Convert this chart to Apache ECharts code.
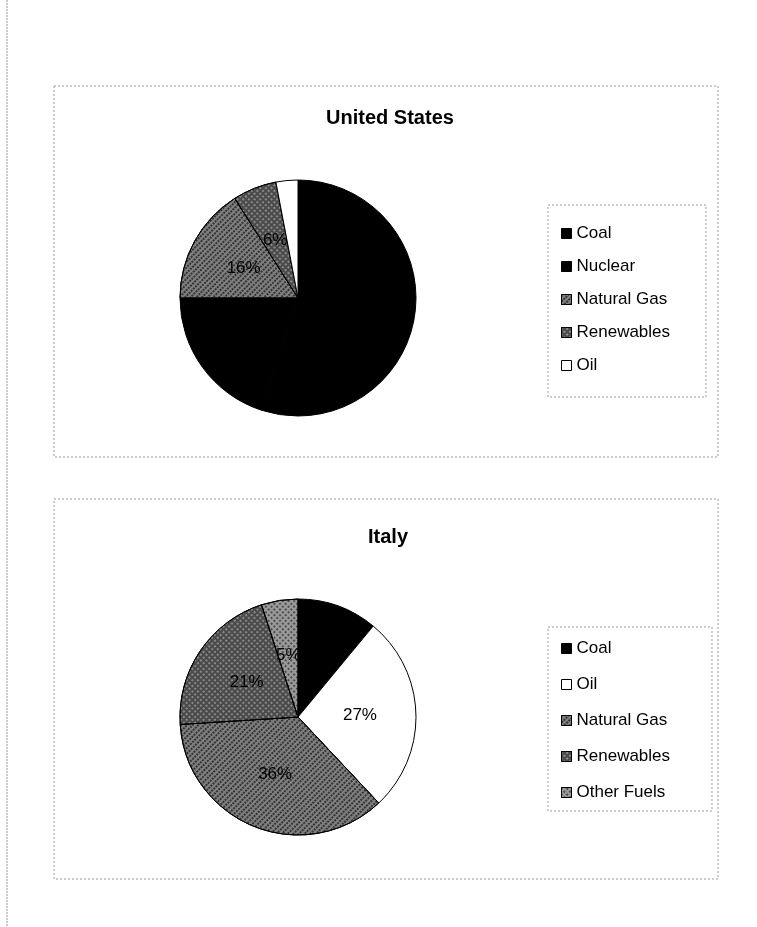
<!DOCTYPE html>
<html><head><meta charset="utf-8">
<script src="https://cdn.jsdelivr.net/npm/echarts@6/dist/echarts.min.js"></script>
<style>html,body{margin:0;padding:0;background:#fff}#c{width:757px;height:927px}</style>
</head><body><div id="c"></div>
<script>
const usCategories = ['Coal', 'Nuclear', 'Natural Gas', 'Renewables', 'Oil'];
const usValues = [55, 20, 16, 6, 3];
const itCategories = ['Coal', 'Oil', 'Natural Gas', 'Renewables', 'Other Fuels'];
const itValues = [11, 27, 36, 21, 5];

const styles = {
  'Coal': {color: '#000'},
  'Nuclear': {color: '#000'},
  'Oil': {color: '#fff'},
  'Natural Gas': {color: '#808080', decal: {symbol: 'rect', symbolSize: 1, color: 'rgba(0,0,0,0.6)', dashArrayX: [2, 2], dashArrayY: [2, 1], rotation: Math.PI / 4}},
  'Renewables': {color: '#4a4a4a', decal: {symbol: 'rect', symbolSize: 1, color: 'rgba(255,255,255,0.35)', dashArrayX: [2, 2], dashArrayY: [2, 2], rotation: Math.PI / 4}},
  'Other Fuels': {color: '#9a9a9a', decal: {symbol: 'rect', symbolSize: 1, color: 'rgba(0,0,0,0.5)', dashArrayX: [2, 2], dashArrayY: [2, 2], rotation: Math.PI / 4}}
};

function mkData(cats, vals) {
  return cats.map((c, i) => ({
    name: c, value: vals[i],
    itemStyle: Object.assign({borderColor: '#000', borderWidth: 1}, styles[c])
  }));
}

function pie(cats, vals, cy) {
  return {
    type: 'pie', radius: 118, center: [298, cy], startAngle: 90, clockwise: true,
    animation: false, silent: true,
    label: {position: 'inside', formatter: p => p.value + '%', color: '#000',
      fontFamily: 'Liberation Sans, Arial', fontSize: 17},
    labelLine: {show: false},
    data: mkData(cats, vals)
  };
}

function legend(cats, top, gap) {
  return {
    orient: 'vertical', left: 556, top: top, itemGap: gap, itemWidth: 10, itemHeight: 10,
    icon: 'rect', selectedMode: false,
    textStyle: {fontFamily: 'Liberation Sans, Arial', fontSize: 17, color: '#000'},
    data: cats.map(c => ({name: c, itemStyle: Object.assign({borderColor: '#000', borderWidth: 1}, styles[c])}))
  };
}

const frameStyle = {stroke: '#9a9a9a', fill: 'none', lineWidth: 1, lineDash: [2, 2]};

const chart = echarts.init(document.getElementById('c'), null, {renderer: 'canvas'});
chart.setOption({
  backgroundColor: '#fff',
  animation: false,
  title: [
    {text: 'United States', left: 385, top: 103, textAlign: 'center',
      textStyle: {fontFamily: 'Liberation Sans, Arial', fontSize: 20, fontWeight: 'bold', color: '#000'}},
    {text: 'Italy', left: 383, top: 522, textAlign: 'center',
      textStyle: {fontFamily: 'Liberation Sans, Arial', fontSize: 20, fontWeight: 'bold', color: '#000'}}
  ],
  legend: [legend(usCategories, 220, 16), legend(itCategories, 635, 19)],
  graphic: [
    {type: 'line', shape: {x1: 7, y1: 0, x2: 7, y2: 927}, style: {stroke: '#9a9a9a', lineDash: [2, 1]}, silent: true},
    {type: 'rect', shape: {x: 54, y: 86, width: 664, height: 371}, style: frameStyle, silent: true},
    {type: 'rect', shape: {x: 54, y: 499, width: 664, height: 380}, style: frameStyle, silent: true},
    {type: 'rect', shape: {x: 548, y: 205, width: 158, height: 192}, style: frameStyle, silent: true},
    {type: 'rect', shape: {x: 548, y: 627, width: 164, height: 184}, style: frameStyle, silent: true}
  ],
  series: [pie(usCategories, usValues, 298), pie(itCategories, itValues, 717)]
});
</script></body></html>
